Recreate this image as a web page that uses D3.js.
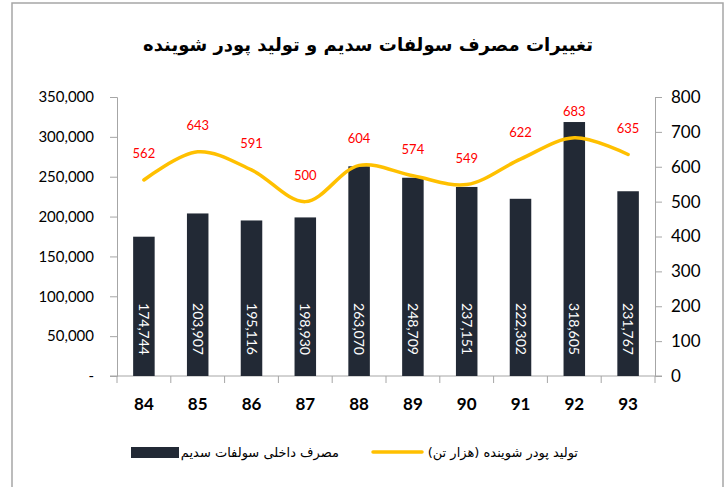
<!DOCTYPE html>
<html>
<head>
<meta charset="utf-8">
<script src="https://cdn.jsdelivr.net/npm/d3@7"></script>
<style>
  body { margin: 0; background: #fff; }
  svg text { font-family: Lato, "Open Sans", "DejaVu Sans", sans-serif; }
</style>
</head>
<body>
<div id="chart"></div>
<script>
const years = ['84', '85', '86', '87', '88', '89', '90', '91', '92', '93'];
const sulfateUse = [174744, 203907, 195116, 198930, 263070, 248709, 237151, 222302, 318605, 231767];
const powderOutput = [562, 643, 591, 500, 604, 574, 549, 622, 683, 635];
const leftTicks = [0, 50000, 100000, 150000, 200000, 250000, 300000, 350000];
const rightTicks = [0, 100, 200, 300, 400, 500, 600, 700, 800];

const width = 728;
const height = 487;
const margin = { left: 117, right: 73, top: 97, bottom: 111 };

const svg = d3.select('#chart')
    .append('svg')
    .attr('width', width)
    .attr('height', height);

// frame
svg.append('rect')
    .attr('x', 12).attr('y', 3)
    .attr('width', 711).attr('height', 500)
    .attr('fill', 'none')
    .attr('stroke', '#a6a6a6')
    .attr('stroke-width', 1.5);

// title
svg.append('text')
    .text('تغییرات مصرف سولفات سدیم و تولید پودر شوینده')
    .attr('x', 368)
    .attr('y', 51)
    .attr('text-anchor', 'middle')
    .attr('font-size', 18)
    .attr('font-weight', 'bold')
    .attr('fill', '#000')
    .style('font-family', '"DejaVu Sans", sans-serif');

const xScale = d3.scaleBand()
    .domain(years)
    .range([margin.left, width - margin.right])
    .paddingInner(0.6)
    .paddingOuter(0.3);

const yLeft = d3.scaleLinear()
    .domain([0, 350000])
    .range([height - margin.bottom, margin.top]);

const yRight = d3.scaleLinear()
    .domain([0, 800])
    .range([height - margin.bottom, margin.top]);

// left axis
const leftAxis = svg.append('g')
    .attr('transform', `translate(${margin.left},0)`)
    .call(d3.axisLeft(yLeft).tickValues(leftTicks).tickSize(7).tickPadding(16)
        .tickFormat(d => d === 0 ? '-' : d3.format(',')(d)));
leftAxis.select('.domain').attr('stroke', '#a6a6a6');
leftAxis.selectAll('line').attr('stroke', '#a6a6a6');
leftAxis.selectAll('text').attr('font-size', 15).attr('fill', '#000')
    .style('font-family', 'Lato, sans-serif');

// right axis
const rightAxis = svg.append('g')
    .attr('transform', `translate(${width - margin.right},0)`)
    .call(d3.axisRight(yRight).tickValues(rightTicks).tickSize(7).tickPadding(9));
rightAxis.select('.domain').attr('stroke', '#a6a6a6');
rightAxis.selectAll('line').attr('stroke', '#a6a6a6');
rightAxis.selectAll('text').attr('font-size', 17).attr('fill', '#000')
    .style('font-family', 'Lato, sans-serif');

// x axis with ticks between categories
const bandEdges = d3.range(years.length + 1).map(i => margin.left + i * (width - margin.left - margin.right) / years.length);
const xAxisG = svg.append('g');
xAxisG.append('line')
    .attr('x1', margin.left - 7).attr('x2', width - margin.right + 7)
    .attr('y1', yLeft(0)).attr('y2', yLeft(0))
    .attr('stroke', '#a6a6a6');
xAxisG.selectAll('.xt')
    .data(bandEdges)
    .enter()
    .append('line')
    .attr('x1', d => d).attr('x2', d => d)
    .attr('y1', yLeft(0)).attr('y2', yLeft(0) + 7)
    .attr('stroke', '#a6a6a6');
xAxisG.selectAll('.xl')
    .data(years)
    .enter()
    .append('text')
    .text(d => d)
    .attr('x', d => xScale(d) + xScale.bandwidth() / 2)
    .attr('y', yLeft(0) + 34)
    .attr('text-anchor', 'middle')
    .attr('font-size', 17)
    .attr('font-weight', 'bold')
    .attr('fill', '#000');

// bars
svg.selectAll('.bar')
    .data(sulfateUse)
    .enter()
    .append('rect')
    .attr('x', (d, i) => xScale(years[i]))
    .attr('y', d => yLeft(d))
    .attr('width', xScale.bandwidth())
    .attr('height', d => yLeft(0) - yLeft(d))
    .attr('fill', '#222935');

// bar labels, rotated
svg.selectAll('.barlabel')
    .data(sulfateUse)
    .enter()
    .append('text')
    .text(d => d3.format(',')(d))
    .attr('transform', (d, i) => `translate(${xScale(years[i]) + xScale.bandwidth() / 2},${yLeft(0) - 47}) rotate(90)`)
    .attr('text-anchor', 'middle')
    .attr('dy', '0.35em')
    .attr('font-size', 14)
    .attr('fill', '#fff');

// line
const line = d3.line()
    .x((d, i) => xScale(years[i]) + xScale.bandwidth() / 2)
    .y(d => yRight(d))
    .curve(d3.curveCatmullRom.alpha(0.5));

svg.append('path')
    .datum(powderOutput)
    .attr('fill', 'none')
    .attr('stroke', '#ffc000')
    .attr('stroke-width', 3.5)
    .attr('stroke-linecap', 'round')
    .attr('d', line);

svg.selectAll('.linelabel')
    .data(powderOutput)
    .enter()
    .append('text')
    .text(d => d)
    .attr('x', (d, i) => xScale(years[i]) + xScale.bandwidth() / 2)
    .attr('y', d => yRight(d) - 22)
    .attr('text-anchor', 'middle')
    .attr('font-size', 13)
    .attr('fill', '#ff0000');

// legend
const legendY = 452;
svg.append('rect')
    .attr('x', 131).attr('y', legendY - 5)
    .attr('width', 48).attr('height', 11)
    .attr('fill', '#222935');
svg.append('text')
    .text('مصرف داخلی سولفات سدیم')
    .attr('x', 339).attr('y', legendY + 5)
    .attr('text-anchor', 'end')
    .attr('font-size', 13)
    .attr('fill', '#000')
    .style('font-family', '"DejaVu Sans", sans-serif');
svg.append('line')
    .attr('x1', 373).attr('x2', 422)
    .attr('y1', legendY).attr('y2', legendY)
    .attr('stroke', '#ffc000')
    .attr('stroke-width', 3.5)
    .attr('stroke-linecap', 'round');
svg.append('text')
    .text('تولید پودر شوینده (هزار تن)')
    .attr('x', 578).attr('y', legendY + 5)
    .attr('text-anchor', 'end')
    .attr('font-size', 13)
    .attr('fill', '#000')
    .style('font-family', '"DejaVu Sans", sans-serif');
</script>
</body>
</html>
